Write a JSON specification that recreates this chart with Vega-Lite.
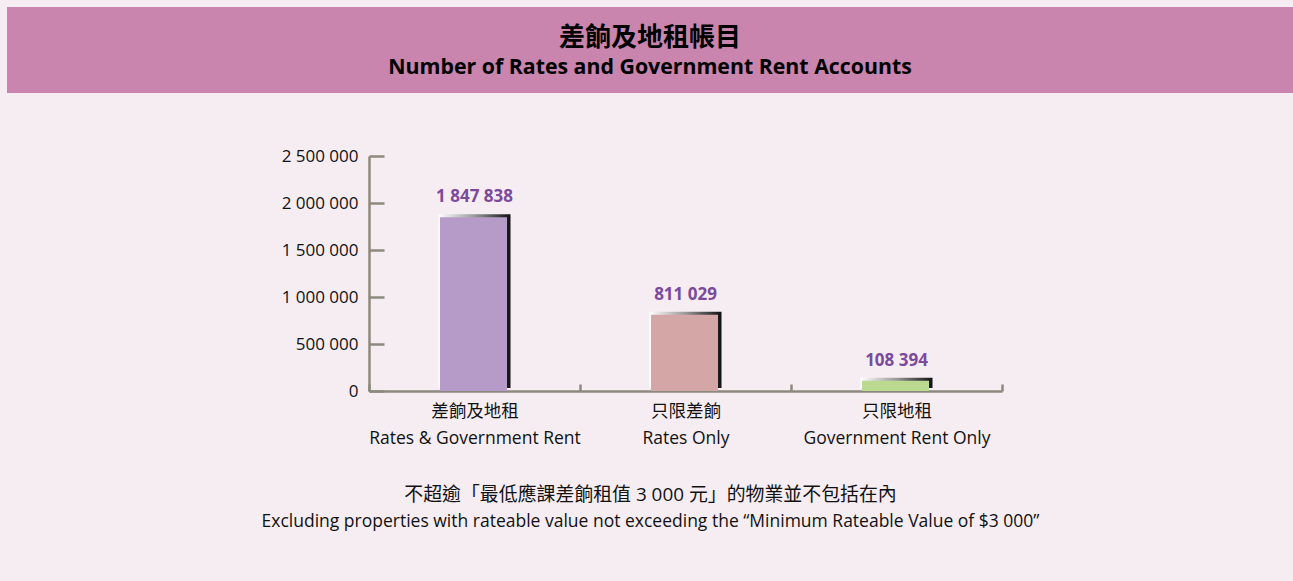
{
  "$schema": "https://vega.github.io/schema/vega-lite/v6.json",
  "background": "#f6edf3",
  "padding": {"left": 7, "top": 7, "right": 0, "bottom": 50},
  "config": {
    "locale": {"number": {"decimal": ".", "thousands": " ", "grouping": [3], "currency": ["$", ""]}},
    "view": {"stroke": null},
    "font": "Open Sans"
  },
  "spacing": 54,
  "vconcat": [
    {
      "width": 1286,
      "height": 86,
      "view": {"fill": "#c985ad", "stroke": null},
      "data": {"values": [
        {"line": "zh", "text": "差餉及地租帳目"},
        {"line": "en", "text": "Number of Rates and Government Rent Accounts"}
      ]},
      "encoding": {
        "y": {"field": "line", "type": "nominal", "scale": {"type": "point", "domain": ["zh", "en"], "padding": 0.98}, "axis": null},
        "text": {"field": "text", "type": "nominal"}
      },
      "layer": [
        {"transform": [{"filter": "datum.line === 'zh'"}], "mark": {"type": "text", "dy": 3, "font": "Noto Sans CJK TC", "fontSize": 26, "fontWeight": "bold", "color": "#000000"}},
        {"transform": [{"filter": "datum.line === 'en'"}], "mark": {"type": "text", "dy": 3, "font": "Open Sans", "fontSize": 21.3, "fontWeight": "bold", "color": "#000000"}}
      ]
    },
    {
      "spacing": 0,
      "hconcat": [
        {
          "width": 254,
          "height": 235,
          "data": {"values": [{"blank": ""}]},
          "mark": {"type": "text", "opacity": 0},
          "encoding": {"text": {"field": "blank", "type": "nominal"}}
        },
        {
          "width": 633,
          "height": 235,
          "data": {"values": [
            {"cat": "差餉及地租|Rates & Government Rent", "value": 1847838, "key": "a"},
            {"cat": "只限差餉|Rates Only", "value": 811029, "key": "b"},
            {"cat": "只限地租|Government Rent Only", "value": 108394, "key": "c"}
          ]},
          "title": {
            "text": "不超逾「最低應課差餉租值 3 000 元」的物業並不包括在內",
            "subtitle": "Excluding properties with rateable value not exceeding the “Minimum Rateable Value of $3 000”",
            "orient": "bottom",
            "anchor": "middle",
            "frame": "group",
            "dx": -35,
            "offset": 39,
            "font": "Open Sans, Noto Sans CJK TC",
            "fontSize": 18.9,
            "fontWeight": "normal",
            "color": "#111111",
            "subtitleFont": "Open Sans",
            "subtitleFontSize": 17.5,
            "subtitleColor": "#111111",
            "subtitlePadding": 9,
            "limit": 0
          },
          "encoding": {
            "x": {
              "field": "cat", "type": "nominal", "sort": null,
              "scale": {"paddingInner": 0, "paddingOuter": 0},
              "axis": {
                "title": null, "labelExpr": "split(datum.label, '|')", "labelAngle": 0, "labelLimit": 0,
                "labelFont": "Open Sans, Noto Sans CJK TC", "labelFontSize": 17.5, "labelColor": "#111111",
                "labelLineHeight": 27, "labelPadding": 18, "tickSize": -7, "tickBand": "extent",
                "tickColor": "#8c8a7e", "tickWidth": 2.5, "domainColor": "#8c8a7e", "domainWidth": 2.5
              }
            },
            "y": {
              "field": "value", "type": "quantitative",
              "scale": {"domain": [0, 2500000], "nice": false},
              "axis": {
                "title": null, "values": [0, 500000, 1000000, 1500000, 2000000, 2500000], "format": ",d",
                "labelFontSize": 17, "labelColor": "#111111", "tickSize": -15, "labelPadding": 26,
                "tickColor": "#8c8a7e", "tickWidth": 2.5, "domainColor": "#8c8a7e", "domainWidth": 2.5,
                "grid": false, "minExtent": 90, "maxExtent": 90
              }
            }
          },
          "layer": [
            {
              "mark": {
                "type": "bar", "width": 72, "yOffset": -3,
                "color": {"gradient": "linear", "x1": 0, "y1": 0, "x2": 1, "y2": 0,
                  "stops": [{"offset": 0, "color": "#ffffff"}, {"offset": 0.5, "color": "#999999"}, {"offset": 1, "color": "#111111"}]}
              }
            },
            {
              "mark": {"type": "bar", "width": 67, "xOffset": -1},
              "encoding": {
                "color": {"field": "key", "type": "nominal", "scale": {"domain": ["a", "b", "c"], "range": ["#b69bc9", "#d4a6a6", "#b9da90"]}, "legend": null}
              }
            },
            {
              "mark": {"type": "text", "baseline": "bottom", "dy": -11, "font": "Open Sans", "fontSize": 17, "fontWeight": "bold", "color": "#7b4a9c"},
              "encoding": {"text": {"field": "value", "type": "quantitative", "format": ",d"}}
            }
          ]
        }
      ]
    }
  ]
}
